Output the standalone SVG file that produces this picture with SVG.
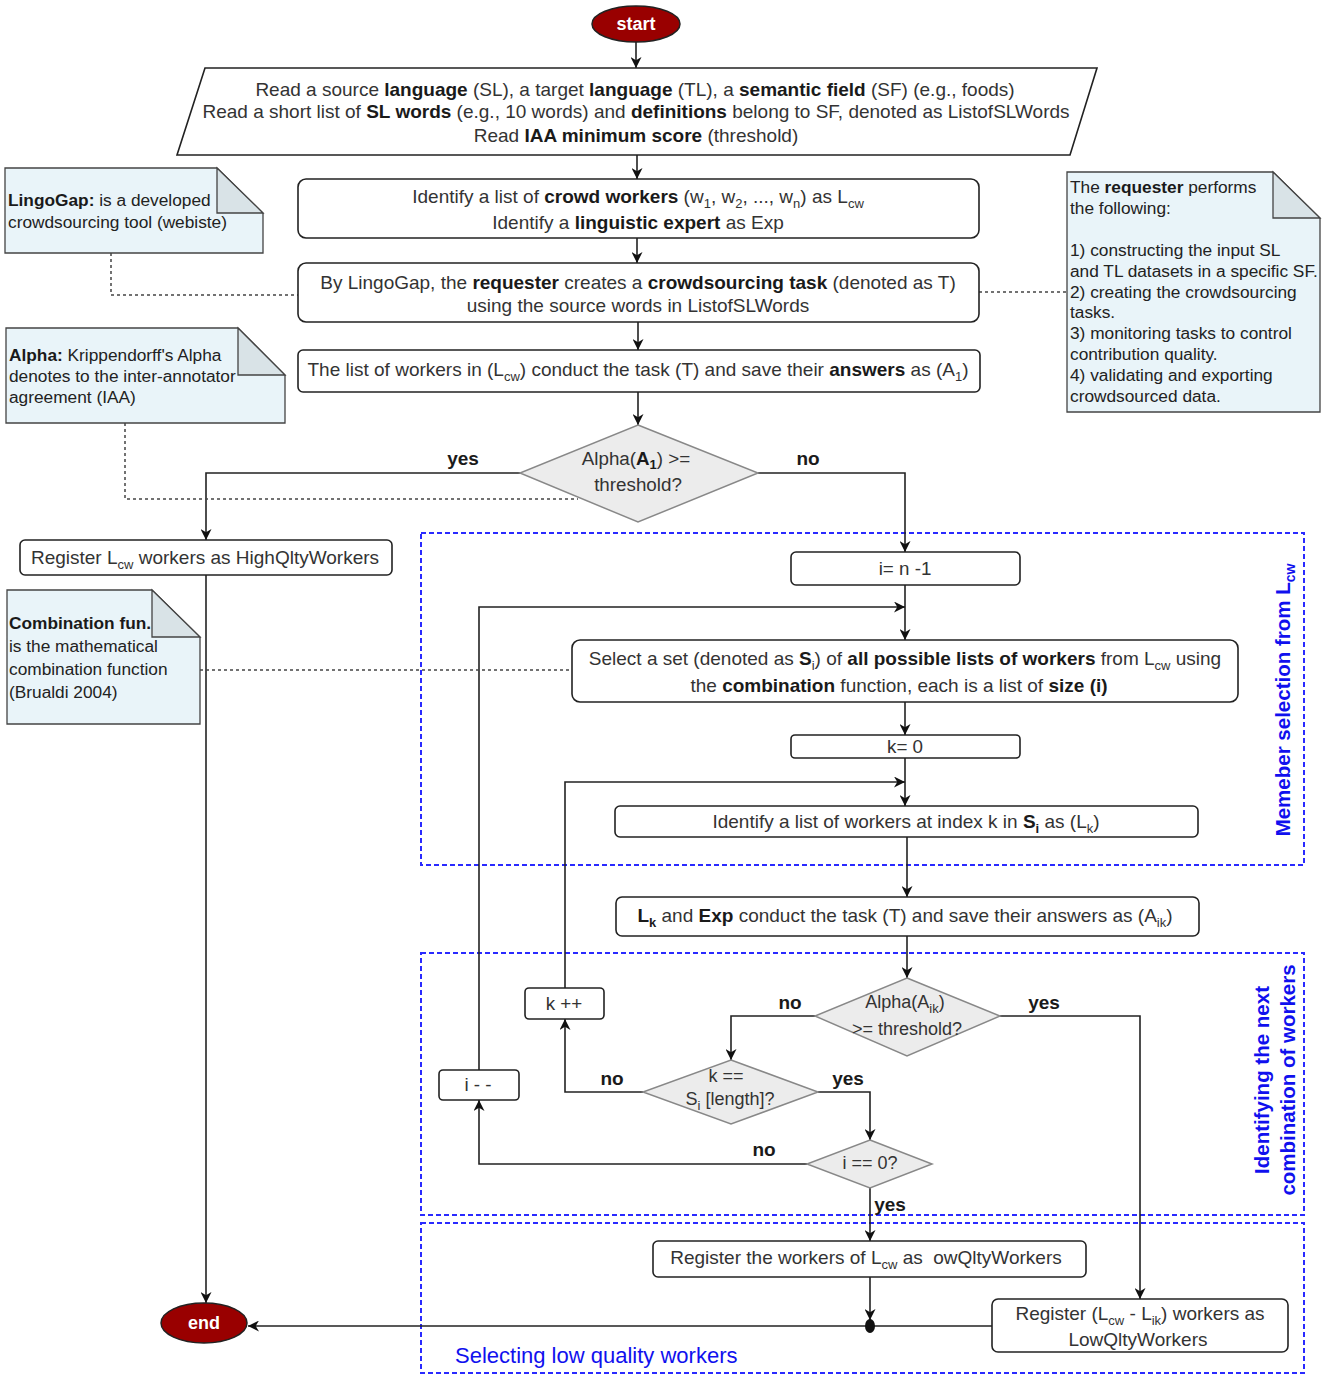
<svg xmlns="http://www.w3.org/2000/svg" width="1325" height="1380" viewBox="0 0 1325 1380">
<defs>
<marker id="arr" viewBox="0 0 10 10" refX="10" refY="5" markerWidth="11" markerHeight="11" markerUnits="userSpaceOnUse" orient="auto">
<path d="M0,0 L10,5 L0,10 L3,5 z" fill="#111"/>
</marker>
<style>
text{font-family:"Liberation Sans",Arial,sans-serif;fill:#333;}
.t{font-size:19px;}
.n{font-size:17.3px;fill:#222;}
.s{font-size:18.8px;}
.s2{font-size:18px;}
.b{font-weight:bold;fill:#1a1a1a;}
.lab{font-size:19px;font-weight:bold;fill:#1a1a1a;}
.box{fill:#fff;stroke:#222;stroke-width:1.6;}
.dia{fill:#ececec;stroke:#888;stroke-width:1.5;}
.note{fill:#e9f4f9;stroke:#444;stroke-width:1.3;}
.fold{fill:#d9e3e7;stroke:#444;stroke-width:1.3;}
.edge{fill:none;stroke:#222;stroke-width:1.6;}
.dot{fill:none;stroke:#444;stroke-width:1.5;stroke-dasharray:3,3;}
.grp{fill:none;stroke:#2a2aff;stroke-width:2;stroke-dasharray:5,3;}
.gl{font-weight:bold;font-size:20.5px;fill:#1010ee;}
.term{fill:#990000;stroke:#222;stroke-width:1.5;}
.tt{font-weight:bold;font-size:18px;fill:#fff;}
</style>
</defs>

<!-- containers -->
<g id="groups">
<rect class="grp" x="421" y="533" width="883" height="332"/>
<rect class="grp" x="421" y="953" width="883" height="262"/>
<rect class="grp" x="421" y="1223" width="883" height="150"/>
<text class="gl" transform="translate(1290,700) rotate(-90)" text-anchor="middle">Memeber selection from L<tspan dy="5" font-size="14">cw</tspan></text>
<text class="gl" transform="translate(1269,1080) rotate(-90)" text-anchor="middle">Identifying the next</text>
<text class="gl" transform="translate(1295,1080) rotate(-90)" text-anchor="middle">combination of workers</text>
<text x="455" y="1363" font-size="22" style="fill:#1010ee">Selecting low quality workers</text>
</g>

<!-- connectors -->
<g id="connectors">
<path class="edge" d="M636,42 V68" marker-end="url(#arr)"/>
<path class="edge" d="M637,155 V179" marker-end="url(#arr)"/>
<path class="edge" d="M637,238 V263" marker-end="url(#arr)"/>
<path class="edge" d="M638,322 V350" marker-end="url(#arr)"/>
<path class="edge" d="M638,392 V425" marker-end="url(#arr)"/>
<path class="edge" d="M520,473 H206 V540" marker-end="url(#arr)"/>
<path class="edge" d="M758,473 H905 V552" marker-end="url(#arr)"/>
<path class="edge" d="M206,575 V1303" marker-end="url(#arr)"/>
<path class="edge" d="M905,585 V640" marker-end="url(#arr)"/>
<path class="edge" d="M479,1070 V607 H905" marker-end="url(#arr)"/>
<path class="edge" d="M905,702 V735" marker-end="url(#arr)"/>
<path class="edge" d="M905,758 V806" marker-end="url(#arr)"/>
<path class="edge" d="M565,988 V782 H905" marker-end="url(#arr)"/>
<path class="edge" d="M907,837 V897" marker-end="url(#arr)"/>
<path class="edge" d="M907,936 V978" marker-end="url(#arr)"/>
<path class="edge" d="M815,1016 H731 V1060" marker-end="url(#arr)"/>
<path class="edge" d="M1000,1016 H1140 V1299" marker-end="url(#arr)"/>
<path class="edge" d="M643,1092 H565 V1019" marker-end="url(#arr)"/>
<path class="edge" d="M818,1092 H870 V1140" marker-end="url(#arr)"/>
<path class="edge" d="M807,1164 H479 V1100" marker-end="url(#arr)"/>
<path class="edge" d="M870,1188 V1241" marker-end="url(#arr)"/>
<path class="edge" d="M870,1277 V1320" marker-end="url(#arr)"/>
<path class="edge" d="M992,1326 H248" marker-end="url(#arr)"/>
<ellipse cx="870" cy="1326" rx="5" ry="7" fill="#111"/>
<path class="dot" d="M111,253 V295 H298"/>
<path class="dot" d="M125,423 V499 H578"/>
<path class="dot" d="M979,292 H1067"/>
<path class="dot" d="M200,670 H572"/>
<text class="lab" x="463" y="465" text-anchor="middle">yes</text>
<text class="lab" x="808" y="465" text-anchor="middle">no</text>
<text class="lab" x="790" y="1009" text-anchor="middle">no</text>
<text class="lab" x="1044" y="1009" text-anchor="middle">yes</text>
<text class="lab" x="612" y="1085" text-anchor="middle">no</text>
<text class="lab" x="848" y="1085" text-anchor="middle">yes</text>
<text class="lab" x="764" y="1156" text-anchor="middle">no</text>
<text class="lab" x="890" y="1211" text-anchor="middle">yes</text>
</g>

<g id="start">
<ellipse class="term" cx="636" cy="24" rx="44" ry="18"/>
<text class="tt" x="636" y="30" text-anchor="middle">start</text>
</g>

<g id="input">
<polygon class="box" points="205,68 1097,68 1070,155 177,155"/>
<text class="t" x="635" y="96" text-anchor="middle">Read a source <tspan class="b">language</tspan> (SL), a target <tspan class="b">language</tspan> (TL), a <tspan class="b">semantic field</tspan> (SF) (e.g., foods)</text>
<text class="t" x="636" y="118" text-anchor="middle">Read a short list of <tspan class="b">SL words</tspan> (e.g., 10 words) and <tspan class="b">definitions</tspan> belong to SF, denoted as ListofSLWords</text>
<text class="t" x="636" y="142" text-anchor="middle">Read <tspan class="b">IAA minimum score</tspan> (threshold)</text>
</g>

<g id="identify-workers">
<rect class="box" x="298" y="179" width="681" height="59" rx="8"/>
<text class="t" x="638" y="203" text-anchor="middle">Identify a list of <tspan class="b">crowd workers</tspan> (w<tspan dy="5" font-size="13">1</tspan><tspan dy="-5">, w</tspan><tspan dy="5" font-size="13">2</tspan><tspan dy="-5">, ..., w</tspan><tspan dy="5" font-size="13">n</tspan><tspan dy="-5">) as L</tspan><tspan dy="5" font-size="13">cw</tspan></text>
<text class="t" x="638" y="229" text-anchor="middle">Identify a <tspan class="b">linguistic expert</tspan> as Exp</text>
</g>

<g id="create-task">
<rect class="box" x="298" y="263" width="681" height="59" rx="8"/>
<text class="t" x="638" y="289" text-anchor="middle">By LingoGap, the <tspan class="b">requester</tspan> creates a <tspan class="b">crowdsourcing task</tspan> (denoted as T)</text>
<text class="t" x="638" y="312" text-anchor="middle">using the source words in ListofSLWords</text>
</g>

<g id="conduct-task">
<rect class="box" x="298" y="350" width="682" height="42" rx="5"/>
<text class="t" x="638" y="376" text-anchor="middle">The list of workers in (L<tspan dy="5" font-size="13">cw</tspan><tspan dy="-5">) conduct the task (T) and save their </tspan><tspan class="b">answers</tspan> as (A<tspan dy="5" font-size="13">1</tspan><tspan dy="-5">)</tspan></text>
</g>

<g id="decision-alpha1">
<polygon class="dia" points="638,425 758,473 638,522 520,473"/>
<text class="s" x="636" y="465" text-anchor="middle">Alpha(<tspan class="b">A</tspan><tspan class="b" dy="4" font-size="13">1</tspan><tspan dy="-4">) &gt;=</tspan></text>
<text class="s" x="638" y="491" text-anchor="middle">threshold?</text>
</g>

<g id="register-high">
<rect class="box" x="20" y="540" width="372" height="35" rx="5"/>
<text class="t" x="205" y="564" text-anchor="middle">Register L<tspan dy="5" font-size="13">cw</tspan><tspan dy="-5"> workers as HighQltyWorkers</tspan></text>
</g>

<g id="init-i">
<rect class="box" x="791" y="552" width="229" height="33" rx="5"/>
<text class="s" x="905" y="575" text-anchor="middle">i= n -1</text>
</g>

<g id="select-set">
<rect class="box" x="572" y="640" width="666" height="62" rx="8"/>
<text class="t" x="905" y="665" text-anchor="middle">Select a set (denoted as <tspan class="b">S</tspan><tspan dy="5" font-size="13">i</tspan><tspan dy="-5">) of </tspan><tspan class="b">all possible lists of workers</tspan> from L<tspan dy="5" font-size="13">cw</tspan><tspan dy="-5"> using</tspan></text>
<text class="t" x="899" y="692" text-anchor="middle">the <tspan class="b">combination</tspan> function, each is a list of <tspan class="b">size (i)</tspan></text>
</g>

<g id="init-k">
<rect class="box" x="791" y="735" width="229" height="23" rx="4"/>
<text class="s" x="905" y="753" text-anchor="middle">k= 0</text>
</g>

<g id="identify-lk">
<rect class="box" x="615" y="806" width="583" height="31" rx="5"/>
<text class="t" x="906" y="828" text-anchor="middle">Identify a list of workers at index k in <tspan class="b">S</tspan><tspan class="b" dy="5" font-size="13">i</tspan><tspan dy="-5"> as (L</tspan><tspan dy="5" font-size="13">k</tspan><tspan dy="-5">)</tspan></text>
</g>

<g id="conduct-lk">
<rect class="box" x="616" y="897" width="583" height="39" rx="6"/>
<text class="t" x="905" y="922" text-anchor="middle"><tspan class="b">L</tspan><tspan class="b" dy="5" font-size="13">k</tspan><tspan dy="-5"> and </tspan><tspan class="b">Exp</tspan> conduct the task (T) and save their answers as (A<tspan dy="5" font-size="13">ik</tspan><tspan dy="-5">)</tspan></text>
</g>

<g id="decision-alphaik">
<polygon class="dia" points="907,978 1000,1016 907,1056 815,1016"/>
<text class="s2" x="905" y="1008" text-anchor="middle">Alpha(A<tspan dy="5" font-size="13">ik</tspan><tspan dy="-5">)</tspan></text>
<text class="s2" x="907" y="1035" text-anchor="middle">&gt;= threshold?</text>
</g>

<g id="k-inc">
<rect class="box" x="525" y="988" width="79" height="31" rx="4"/>
<text class="s" x="564" y="1010" text-anchor="middle">k ++</text>
</g>

<g id="decision-k">
<polygon class="dia" points="731,1060 818,1092 731,1124 643,1092"/>
<text class="s2" x="726" y="1082" text-anchor="middle">k ==</text>
<text class="s2" x="730" y="1105" text-anchor="middle">S<tspan dy="5" font-size="13">i</tspan><tspan dy="-5"> [length]?</tspan></text>
</g>

<g id="i-dec">
<rect class="box" x="439" y="1070" width="80" height="30" rx="4"/>
<text class="s" x="478" y="1091" text-anchor="middle">i - -</text>
</g>

<g id="decision-i">
<polygon class="dia" points="870,1140 932,1164 870,1188 807,1164"/>
<text class="s2" x="870" y="1169" text-anchor="middle">i == 0?</text>
</g>

<g id="register-all-low">
<rect class="box" x="653" y="1241" width="433" height="36" rx="5"/>
<text class="t" x="866" y="1264" text-anchor="middle">Register the workers of L<tspan dy="5" font-size="13">cw</tspan><tspan dy="-5"> as&#160; owQltyWorkers</tspan></text>
</g>

<g id="register-low">
<rect class="box" x="992" y="1299" width="296" height="53" rx="6"/>
<text class="t" x="1140" y="1320" text-anchor="middle">Register (L<tspan dy="5" font-size="13">cw</tspan><tspan dy="-5"> - L</tspan><tspan dy="5" font-size="13">ik</tspan><tspan dy="-5">) workers as</tspan></text>
<text class="t" x="1138" y="1346" text-anchor="middle">LowQltyWorkers</text>
</g>

<g id="end">
<ellipse class="term" cx="204" cy="1323" rx="43" ry="20"/>
<text class="tt" x="204" y="1329" text-anchor="middle">end</text>
</g>

<g id="note-lingogap">
<path class="note" d="M5,168 H217 L263,213 V253 H5 Z"/>
<path class="fold" d="M217,168 V213 H263 Z"/>
<text class="n" x="8" y="206"><tspan class="b">LingoGap:</tspan> is a developed</text>
<text class="n" x="8" y="228">crowdsourcing tool (webiste)</text>
</g>

<g id="note-alpha">
<path class="note" d="M6,328 H238 L285,375 V423 H6 Z"/>
<path class="fold" d="M238,328 V375 H285 Z"/>
<text class="n" x="9" y="361"><tspan class="b">Alpha:</tspan> Krippendorff's Alpha</text>
<text class="n" x="9" y="382">denotes to the inter-annotator</text>
<text class="n" x="9" y="403">agreement (IAA)</text>
</g>

<g id="note-requester">
<path class="note" d="M1067,172 H1273 L1320,218 V412 H1067 Z"/>
<path class="fold" d="M1273,172 V218 H1320 Z"/>
<text class="n" x="1070" y="193">The <tspan class="b">requester</tspan> performs</text>
<text class="n" x="1070" y="214">the following:</text>
<text class="n" x="1070" y="256">1) constructing the input SL</text>
<text class="n" x="1070" y="277">and TL datasets in a specific SF.</text>
<text class="n" x="1070" y="298">2) creating the crowdsourcing</text>
<text class="n" x="1070" y="318">tasks.</text>
<text class="n" x="1070" y="339">3) monitoring tasks to control</text>
<text class="n" x="1070" y="360">contribution quality.</text>
<text class="n" x="1070" y="381">4) validating and exporting</text>
<text class="n" x="1070" y="402">crowdsourced data.</text>
</g>

<g id="note-combination">
<path class="note" d="M7,590 H152 L200,637 V724 H7 Z"/>
<path class="fold" d="M152,590 V637 H200 Z"/>
<text class="n" x="9" y="629"><tspan class="b">Combination fun.</tspan></text>
<text class="n" x="9" y="652">is the mathematical</text>
<text class="n" x="9" y="675">combination function</text>
<text class="n" x="9" y="698">(Brualdi 2004)</text>
</g>
</svg>
